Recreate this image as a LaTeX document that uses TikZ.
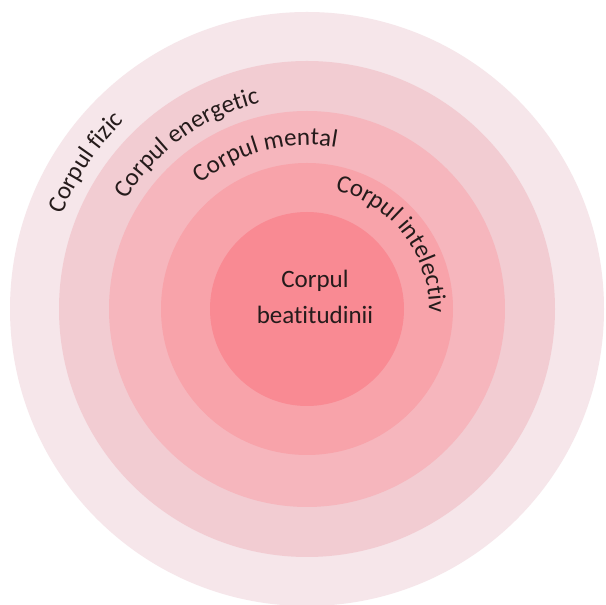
\documentclass[tikz,border=0pt]{standalone}
\usepackage{fontspec}
\setmainfont{Carlito}[Ligatures=NoCommon]
\usetikzlibrary{decorations.text}
\definecolor{ringA}{HTML}{F6E6EA}
\definecolor{ringB}{HTML}{F2CCD2}
\definecolor{ringC}{HTML}{F6B6BD}
\definecolor{ringD}{HTML}{F8A3AA}
\definecolor{ringE}{HTML}{F98A93}
\definecolor{txt}{HTML}{251B1B}
\newcommand\arcfont{\fontsize{25}{30}\selectfont}
\begin{document}
\begin{tikzpicture}[x=1pt,y=1pt,
  ring/.style={fill=#1, draw=none},
  arclabel/.style={decorate, decoration={text along path, text align=center, text color=txt, text={|\arcfont|#1}}}]
\useasboundingbox (0,0) rectangle (606,605);
\fill[white] (0,0) rectangle (606,605);
\coordinate (c) at (307,296);
\fill[ring=ringA] (c) circle[radius=297];
\fill[ring=ringB] (c) circle[radius=248];
\fill[ring=ringC] (c) circle[radius=198];
\fill[ring=ringD] (c) circle[radius=146];
\fill[ring=ringE] (c) circle[radius=97];
\path[arclabel={Corpul fizic}] ([shift={(176.5:262)}]c) arc[start angle=176.5, end angle=116.5, radius=262];
\path[arclabel={Corpul energetic}] ([shift={(160.8:211)}]c) arc[start angle=160.8, end angle=90.8, radius=211];
\path[arclabel={Corpul mental}] ([shift={(145:164)}]c) arc[start angle=145, end angle=65, radius=164];
\path[arclabel={Corpul intelectiv}] ([shift={(87.5:122)}]c) arc[start angle=87.5, end angle=-12.5, radius=122];
\node[align=center, text=txt, font=\fontsize{25}{36}\selectfont] (core) at (315,308) {Corpul\\beatitudinii};
\end{tikzpicture}
\end{document}
